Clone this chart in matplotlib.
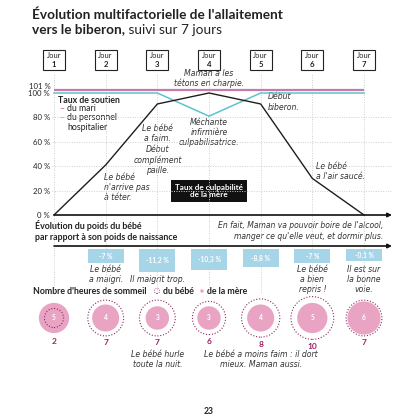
import numpy as np
import matplotlib
matplotlib.use("Agg")
import matplotlib.pyplot as plt
import matplotlib.transforms as mtransforms
from matplotlib.patches import Rectangle

# ---------------- data ----------------
days = [1, 2, 3, 4, 5, 6, 7]
guilt = [0, 41, 91, 100, 91, 30, 0]            # Taux de culpabilité de la mère
support_staff = [100, 100, 100, 81, 100, 100, 100]  # personnel hospitalier
support_husband = [101, 101, 101, 101, 101, 101, 101]  # du mari
yticks = [0, 20, 40, 60, 80, 100]
weight = [np.nan, -7, -11.2, -10.3, -8.8, -7, -0.1]   # % vs birth weight
mom_sleep = [5, 4, 3, 3, 4, 5, 6]
baby_sleep = [2, 7, 7, 6, 8, 10, 7]

plt.rcParams['font.family'] = ['Lato', 'DejaVu Sans']

W = H = 417
fig = plt.figure(figsize=(4.17, 4.17), dpi=100)
fig.patch.set_facecolor('white')

def px_axes(left, top, right, bottom):
    return fig.add_axes([left / W, 1 - bottom / H, (right - left) / W, (bottom - top) / H])

bg = px_axes(0, 0, W, H)
bg.set_xlim(0, W); bg.set_ylim(H, 0); bg.axis('off')

TXT = '#222222'
PINK_LINE = '#c77aa6'
CYAN = '#5cc3d0'
BAR = '#a6d5e7'
MOM = '#e9a4c3'
BABY = '#8e2a64'
NUM = '#9b1f66'
GRID = '#cfcfcf'

SP = 51.67
x0 = 1 - 2 / SP
x1 = 7 + 28 / SP

# ---------------- main chart ----------------
ax = px_axes(52, 80, 392, 217)
ax.set_xlim(x0, x1)
ax.set_ylim(-2 / 1.22, (215 - 80) / 1.22)
ax.patch.set_alpha(0)
for s in ax.spines.values():
    s.set_visible(False)
ax.set_xticks([])
ax.set_yticks(yticks)
ax.set_yticklabels([f'{v} %' for v in yticks], fontsize=5.6, color=TXT)
ax.tick_params(axis='y', length=0, pad=1.5)
for v in yticks[1:-1]:
    ax.axhline(v, color=GRID, lw=0.7, ls=(0, (1, 1.5)), zorder=0)
for d in days:
    ax.axvline(d, ymin=(217 - 292) / 137, ymax=(217 - 74) / 137, color=GRID,
               lw=0.7, ls=(0, (1, 1.5)), clip_on=False, zorder=0)

off = mtransforms.offset_copy(ax.transData, fig=fig, y=2, units='dots')
ax.plot(days, support_husband, color=PINK_LINE, lw=1.6, transform=off, solid_capstyle='butt', zorder=3)
ax.plot(days, support_staff, color=CYAN, lw=1.1, zorder=3)
ax.plot(days, guilt, color='#1e1e1e', lw=1.0, zorder=4)
ax.annotate('', xy=(1.0, 0), xycoords=('axes fraction', 'data'), xytext=(1, 0), textcoords='data',
            arrowprops=dict(arrowstyle='-|>', lw=1.2, color='#111111', mutation_scale=6,
                            shrinkA=0, shrinkB=0), zorder=5)

bx = mtransforms.blended_transform_factory(ax.transData, bg.transData)

bg.text(51, 86.5, '101 %', ha='right', va='center', fontsize=5.6, color=TXT)

# Title
t1 = bg.text(32, 18.5, "Évolution multifactorielle de l'allaitement", fontsize=9.8,
             fontweight='bold', color=TXT, va='baseline')
t2 = bg.text(32, 33.5, "vers le biberon,", fontsize=9.8, fontweight='bold', color=TXT, va='baseline')
bg.annotate(" suivi sur 7 jours", xy=(1, 0), xycoords=t2, xytext=(0, 0), textcoords='offset points',
            fontsize=9.8, fontweight='normal', color=TXT, va='bottom', ha='left')

# Jour boxes
bw = 22 / SP
for d in days:
    bg.add_patch(Rectangle((d - bw / 2, 49.5), bw, 20.5, transform=bx, fill=True,
                           facecolor='white', edgecolor='#222222', lw=0.8, zorder=5))
    bg.text(d, 55.5, 'Jour', transform=bx, ha='center', va='center', fontsize=5.4, color=TXT, zorder=6)
    bg.text(d, 64, str(d), transform=bx, ha='center', va='center', fontsize=5.6,
            fontweight='bold', color=TXT, zorder=6)

# legend
bg.text(58, 100, 'Taux de soutien', fontsize=6.3, fontweight='bold', color=TXT, va='center')
bg.text(59, 108.5, '–', fontsize=6.3, color=PINK_LINE, va='center', fontweight='bold')
bg.text(67, 108.5, 'du mari', fontsize=6.3, color=TXT, va='center')
bg.text(59, 118, '–', fontsize=6.3, color=CYAN, va='center', fontweight='bold')
bg.text(67, 122.5, 'du personnel\nhospitalier', fontsize=6.3, color=TXT, va='center', linespacing=1.1)

IT = dict(fontsize=5.6, style='italic', color='#333333', linespacing=1.2, family='DejaVu Sans')
bg.text(4, 78.8, 'Maman a les\ntétons en charpie.', transform=bx, ha='center', va='center',
        **{**IT, 'linespacing': 1.1})
bg.text(3, 149.5, 'Le bébé\na faim.\nDébut\ncomplément\npaille.', transform=bx, ha='center', va='center', **IT)
bg.text(4, 132.5, 'Méchante\ninfirmière\nculpabilisatrice.', transform=bx, ha='center', va='center', **IT)
bg.text(268, 102, 'Début\nbiberon.', ha='left', va='center', **IT)
bg.text(104, 187.5, 'Le bébé\nn\'arrive pas\nà téter.', ha='left', va='center', **IT)
bg.text(316, 171.5, 'Le bébé\na l\'air saucé.', ha='left', va='center', **IT)
bg.text(4, 191, 'Taux de culpabilité\nde la mère', transform=bx, ha='center', va='center',
        fontsize=5.9, fontweight='bold', color='white', linespacing=1.15,
        bbox=dict(boxstyle='square,pad=0.45', facecolor='#111111', edgecolor='none'), zorder=6)

# ---------------- weight ----------------
bg.text(35, 231, 'Évolution du poids du bébé\npar rapport à son poids de naissance', fontsize=6.4,
        fontweight='bold', color=TXT, va='center', linespacing=1.2)
bg.text(383, 231, "En fait, Maman va pouvoir boire de l'alcool,\nmanger ce qu'elle veut, et dormir plus.",
        ha='right', va='center', **{**IT, 'linespacing': 1.3, 'fontsize': 5.5})

K = 2.05
wax = px_axes(52, 244, 392, 276)
wax.set_xlim(x0, x1)
wax.set_ylim(-(276 - 249) / K, 5 / K)
wax.axis('off')
wvals = np.array(weight, dtype=float)
heights = -np.maximum(np.abs(wvals), 6)
wax.bar(days, heights, width=36 / SP, color=BAR, bottom=0, zorder=2)
wax.annotate('', xy=(1.0, 3 / K), xycoords=('axes fraction', 'data'), xytext=(1, 3 / K), textcoords='data',
             arrowprops=dict(arrowstyle='-|>', lw=1.2, color='#111111', mutation_scale=6,
                             shrinkA=0, shrinkB=0))
for d, v, h in zip(days, wvals, heights):
    if np.isnan(v):
        continue
    lab = f'{v:.0f}' if abs(v - round(v)) < 1e-9 else f'{v:.1f}'.replace('.', ',')
    wax.text(d, h / 2, lab + ' %', ha='center', va='center', fontsize=4.9, fontweight='bold',
             color='white', zorder=3)

bg.text(2, 274.5, 'Le bébé\na maigri.', transform=bx, ha='center', va='center', **IT)
bg.text(3, 279, 'Il maigrit trop.', transform=bx, ha='center', va='center', **IT)
bg.text(6, 279.5, 'Le bébé\na bien\nrepris !', transform=bx, ha='center', va='center', **IT)
bg.text(7, 279.5, 'Il est sur\nla bonne\nvoie.', transform=bx, ha='center', va='center', **IT)

# ---------------- sleep ----------------
bg.text(33, 291, "Nombre d'heures de sommeil", fontsize=6.3, fontweight='bold', color=TXT, va='center')
bg.scatter([157], [291], s=14, facecolors='none', edgecolors=BABY, linewidths=0.6, linestyles=':')
bg.text(163, 291, 'du bébé', fontsize=6.3, fontweight='bold', color=TXT, va='center')
bg.scatter([202], [291], s=6, color=MOM, edgecolors='none')
bg.text(207, 291, 'de la mère', fontsize=6.3, fontweight='bold', color=TXT, va='center')

sax = px_axes(52, 288, 392, 348)
sax.set_xlim(x0, x1)
sax.set_ylim(-30, 30)
sax.axis('off')
S = 95
s_mom = np.array(mom_sleep) * S
s_baby = np.array(baby_sleep) * S
sax.scatter(days, [0] * 7, s=s_mom, color=MOM, edgecolors='none', zorder=2, clip_on=False)
sax.scatter(days, [0] * 7, s=s_baby, facecolors='none', edgecolors=BABY,
            linewidths=0.8, linestyles=(0, (1, 1.6)), zorder=3, clip_on=False)
for d, m, b, sm, sb in zip(days, mom_sleep, baby_sleep, s_mom, s_baby):
    sax.text(d, 0, str(m), ha='center', va='center', fontsize=4.8, fontweight='bold', color='white', zorder=4)
    r_px = np.sqrt(max(sm, sb)) / 2 * 100 / 72
    ylab = max(318 + r_px + 7, 341)
    bg.text(d, ylab, str(b), transform=bx, ha='center', va='center', fontsize=6.0, fontweight='bold', color=NUM)

bg.text(3, 359.5, 'Le bébé hurle\ntoute la nuit.', transform=bx, ha='center', va='center', **IT)
bg.text(5, 359.5, 'Le bébé a moins faim : il dort\nmieux. Maman aussi.', transform=bx, ha='center',
        va='center', **IT)

bg.text(209, 411, '23', ha='center', va='center', fontsize=6.2, fontweight='bold', color=TXT)

fig.savefig('out.png', dpi=100)
